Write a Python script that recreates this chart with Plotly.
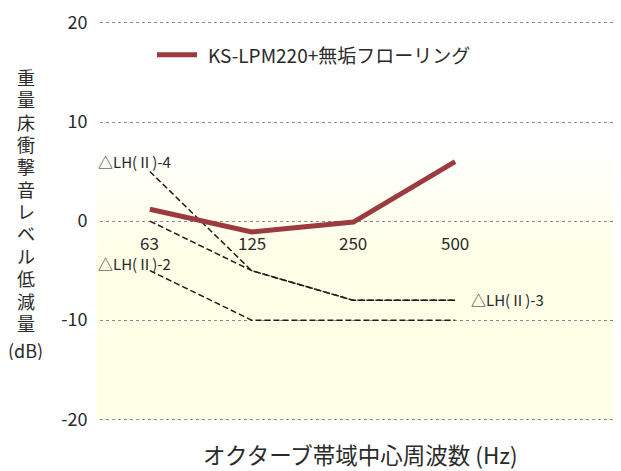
import plotly.graph_objects as go

# ---- data ----
categories = ["63", "125", "250", "500"]
product_name = "KS-LPM220+無垢フローリング"
product_values = [1.2, -1.1, -0.1, 6.0]
lh2_values = [-5, -10, -10, -10]
lh3_values = [0, -5, -8, -8]
lh4_values = [5, -5, -8, -8]
lh_labels = ["△LH(Ⅱ)-4", "△LH(Ⅱ)-2", "△LH(Ⅱ)-3"]
y_ticks = [20, 10, 0, -10, -20]
y_title_chars = list("重量床衝撃音レベル低減量")
y_unit = "(dB)"
x_title = "オクターブ帯域中心周波数 (Hz)"

FONT = "Noto Sans CJK JP"
RED = "#9b3b40"
TXT = "#2a2a2a"
xs = list(range(len(categories)))

# page has an 8px body margin; figure is sized to fill the rest
OFF = 8
W, H = 621 - OFF, 471 - OFF
ML, MR, MT, MB = 92, 0, 10, 30
pw, ph = W - ML - MR, H - MT - MB


def px(x, y):
    """page pixel -> paper coords"""
    return (x - OFF - ML) / pw, 1 - (y - OFF - MT) / ph


fig = go.Figure()

for vals in (lh4_values, lh3_values, lh2_values):
    fig.add_trace(go.Scatter(
        x=xs, y=vals, mode="lines", showlegend=False,
        line=dict(color="#1e1e1e", width=1.5, dash="6px,3px"),
        hoverinfo="skip"))

fig.add_trace(go.Scatter(
    x=xs, y=product_values, mode="lines", name=product_name,
    line=dict(color=RED, width=5), showlegend=False))

shapes = []
for i in range(12):
    top = 8 - i
    shapes.append(dict(type="rect", xref="paper", yref="y", x0=-0.006, x1=1,
                       y0=top, y1=-20, fillcolor="rgba(255,245,180,0.03)",
                       line=dict(width=0), layer="below"))

# legend drawn as key line + text
kx0, ky = px(157, 52)
kx1, _ = px(197, 52)
shapes.append(dict(type="line", xref="paper", yref="paper", x0=kx0, x1=kx1, y0=ky, y1=ky,
                   line=dict(color=RED, width=5)))

annotations = []
for i, c in enumerate(categories):
    annotations.append(dict(x=i, y=-2.2, xref="x", yref="y", text=c,
                            showarrow=False, font=dict(family=FONT, size=17, color=TXT)))


def pix_ann(text, x, y, size, xanchor="center", height=None):
    ax, ay = px(x, y)
    a = dict(x=ax, y=ay, xref="paper", yref="paper", text=text, showarrow=False,
             xanchor=xanchor, yanchor="middle", font=dict(family=FONT, size=size, color=TXT))
    if height:
        a["height"] = height
    return a


annotations.append(pix_ann(product_name, 206, 52, 19, "left"))
annotations.append(pix_ann(lh_labels[0], 96, 160, 15, "left"))
annotations.append(pix_ann(lh_labels[1], 96, 262, 15, "left"))
annotations.append(pix_ann(lh_labels[2], 469, 298, 15, "left"))

for i, ch in enumerate(y_title_chars):
    annotations.append(pix_ann(ch, 26, 74 + i * 22.5, 18, height=21))
annotations.append(pix_ann(y_unit, 25, 349, 18, height=21))
annotations.append(pix_ann(x_title, 360, 454, 22.5))

fig.update_layout(
    width=W, height=H,
    margin=dict(l=ML, r=MR, t=MT, b=MB),
    paper_bgcolor="white", plot_bgcolor="white",
    font=dict(family=FONT, color=TXT),
    showlegend=False,
    xaxis=dict(range=[-0.49, 4.63], showgrid=False, zeroline=False,
               showticklabels=False, ticks="", showline=False, fixedrange=True),
    yaxis=dict(range=[-22.2, 20.2], tickvals=y_ticks, ticktext=[str(v) for v in y_ticks],
               showgrid=True, gridcolor="#8a8a8a", gridwidth=1, griddash="dot",
               zeroline=False, showline=False, ticks="outside", ticklen=8,
               ticklabeloverflow="allow",
               tickcolor="rgba(0,0,0,0)", tickfont=dict(family=FONT, size=18, color=TXT)),
    shapes=shapes,
    annotations=annotations,
)

fig.write_html("out.html")
